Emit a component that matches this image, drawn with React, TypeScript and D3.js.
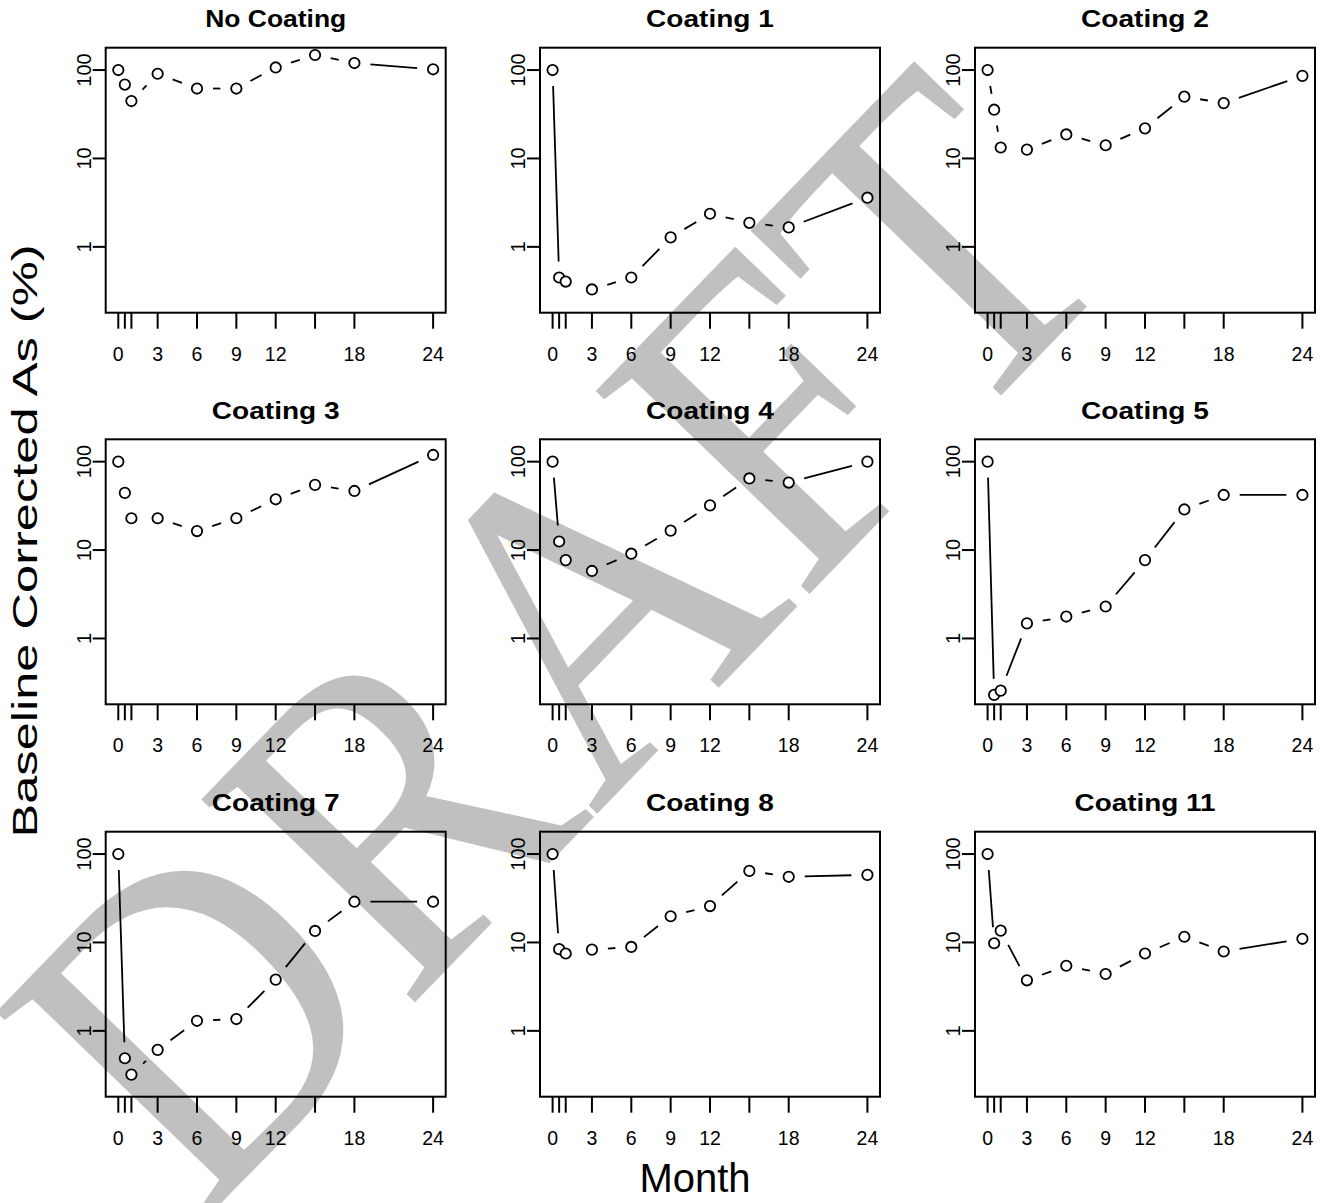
import React from "react";
import * as d3 from "d3";

// ---- data ----
const months = [0, 0.5, 1, 3, 6, 9, 12, 15, 18, 24];
const tickMonths = [0, 0.5, 1, 3, 6, 9, 12, 15, 18, 24];
const labeledMonths = [0, 3, 6, 9, 12, 18, 24];
const yTicks = [1, 10, 100];

const panelTitles = [
  "No Coating", "Coating 1", "Coating 2",
  "Coating 3", "Coating 4", "Coating 5",
  "Coating 7", "Coating 8", "Coating 11",
];

const noCoating = [100, 68.5, 44.6, 90.8, 61.8, 61.8, 107, 148, 120, 102];
const coating1 = [100, 0.45, 0.405, 0.33, 0.45, 1.28, 2.37, 1.87, 1.66, 3.6];
const coating2 = [100, 35.6, 13.3, 12.6, 18.7, 14.1, 21.9, 50, 42.3, 86];
const coating3 = [100, 44.3, 22.9, 22.9, 16.4, 22.9, 37.5, 54.6, 46.6, 119];
const coating4 = [100, 12.5, 7.7, 5.8, 9.1, 16.6, 32, 64.6, 58, 100];
const coating5 = [100, 0.23, 0.257, 1.48, 1.77, 2.3, 7.7, 28.8, 42, 42];
const coating7 = [100, 0.49, 0.32, 0.61, 1.3, 1.36, 3.8, 13.5, 28.9, 28.9];
const coating8 = [100, 8.4, 7.5, 8.3, 8.9, 19.8, 25.8, 64.5, 55.3, 58.2];
const coating11 = [100, 9.8, 13.6, 3.73, 5.45, 4.4, 7.5, 11.6, 7.9, 11];

const panelSeries = [
  noCoating, coating1, coating2,
  coating3, coating4, coating5,
  coating7, coating8, coating11,
];

// ---- layout ----
const WIDTH = 1332;
const HEIGHT = 1203;
const colLeft = [105.7, 540, 975];
const rowTop = [47.7, 439.3, 831.7];
const PW = 340;
const PH = 265;
const GAP = 16;
const FONT = "Liberation Sans, Arial, Helvetica, sans-serif";

const xScale = d3.scaleLinear().domain([-0.96, 24.96]).range([0, PW]);
const yScale = d3.scaleLog().domain([0.18, 179]).range([PH, 0]);

function Panel({ title, values, left, top }: { title: string; values: number[]; left: number; top: number }) {
  const pts = months.map((m, i) => [xScale(m), yScale(values[i])] as [number, number]);
  const segs: string[] = [];
  for (let i = 0; i < pts.length - 1; i++) {
    const [x1, y1] = pts[i];
    const [x2, y2] = pts[i + 1];
    const dx = x2 - x1, dy = y2 - y1;
    const d = Math.sqrt(dx * dx + dy * dy);
    if (d > 2 * GAP) {
      const ux = dx / d, uy = dy / d;
      const p = d3.path();
      p.moveTo(x1 + ux * GAP, y1 + uy * GAP);
      p.lineTo(x2 - ux * GAP, y2 - uy * GAP);
      segs.push(p.toString());
    }
  }
  return (
    <g transform={`translate(${left},${top})`}>
      <text
        x={PW / 2}
        y={-20.5}
        textAnchor="middle"
        fontFamily={FONT}
        fontWeight="bold"
        fontSize={24}
        fill="#000"
        textLength={title.length * 13.2 + 9}
        lengthAdjust="spacingAndGlyphs"
      >
        {title}
      </text>
      <rect x={0} y={0} width={PW} height={PH} fill="none" stroke="#000" strokeWidth={2} />
      {tickMonths.map((m) => (
        <line key={"xt" + m} x1={xScale(m)} x2={xScale(m)} y1={PH} y2={PH + 16} stroke="#000" strokeWidth={2} />
      ))}
      {labeledMonths.map((m) => (
        <text key={"xl" + m} x={xScale(m)} y={PH + 48} textAnchor="middle" fontFamily={FONT} fontSize={19.5} fill="#000">
          {m}
        </text>
      ))}
      {yTicks.map((v) => (
        <g key={"yt" + v}>
          <line x1={-13} x2={0} y1={yScale(v)} y2={yScale(v)} stroke="#000" strokeWidth={2} />
          <text
            transform={`translate(${-15},${yScale(v)}) rotate(-90)`}
            textAnchor="middle"
            fontFamily={FONT}
            fontSize={20}
            fill="#000"
          >
            {v}
          </text>
        </g>
      ))}
      {segs.map((d, i) => (
        <path key={"s" + i} d={d} stroke="#000" strokeWidth={1.8} fill="none" />
      ))}
      {pts.map(([x, y], i) => (
        <circle key={"p" + i} cx={x} cy={y} r={5.2} fill="#fff" stroke="#000" strokeWidth={1.8} />
      ))}
    </g>
  );
}

export default function App() {
  return (
    <svg
      width={WIDTH}
      height={HEIGHT}
      style={{ position: "absolute", left: 0, top: 0, background: "#fff" }}
    >
      <rect x={0} y={0} width={WIDTH} height={HEIGHT} fill="#fff" />
      <text
        transform="translate(200,1225) rotate(-46)"
        fontFamily="Liberation Serif, Times New Roman, serif"
        fontSize={450}
        fill="#c0c0c0"
        textLength={1340}
        lengthAdjust="spacingAndGlyphs"
      >
        DRAFT
      </text>
      {panelTitles.map((t, i) => (
        <Panel key={t} title={t} values={panelSeries[i]} left={colLeft[i % 3]} top={rowTop[Math.floor(i / 3)]} />
      ))}
      <text
        transform="translate(36.7,541) rotate(-90)"
        textAnchor="middle"
        fontFamily={FONT}
        fontSize={35}
        fill="#000"
        textLength={593}
        lengthAdjust="spacingAndGlyphs"
      >
        Baseline Corrected As (%)
      </text>
      <text x={695} y={1192} textAnchor="middle" fontFamily={FONT} fontSize={40} fill="#000">
        Month
      </text>
    </svg>
  );
}
